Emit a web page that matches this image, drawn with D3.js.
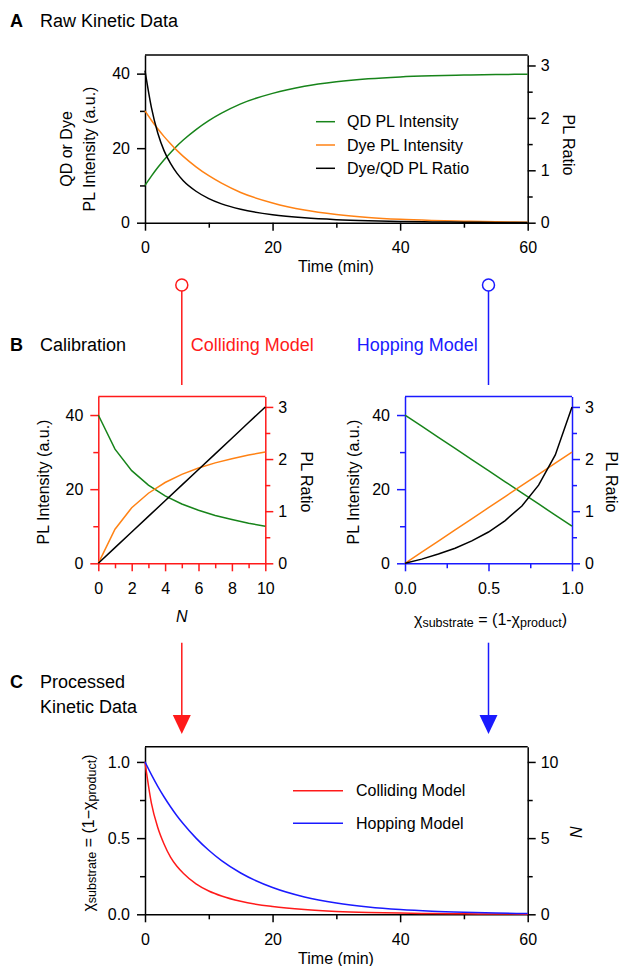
<!DOCTYPE html>
<html>
<head>
<meta charset="utf-8">
<script src="https://cdn.jsdelivr.net/npm/d3@7"></script>
<style>
body { margin: 0; background: #fff; }
text { font-family: "Liberation Sans", Arial, Helvetica, sans-serif; }
</style>
</head>
<body>
<svg id="fig" width="622" height="966"></svg>
<script>
// A - raw kinetic data
var rawTime = [0, 1, 2, 3, 4, 5, 6, 8, 10, 12, 15, 20, 25, 30, 35, 40, 45, 50, 55, 60]
var qdIntensity = [10, 12.5, 14.8, 16.9, 18.8, 20.6, 22.2, 25.0, 27.4, 29.4, 31.9, 34.7, 36.6, 37.8, 38.6, 39.1, 39.4, 39.6, 39.75, 39.85]
var dyeIntensity = [30, 27.5, 25.2, 23.1, 21.2, 19.4, 17.8, 15.0, 12.6, 10.6, 8.1, 5.3, 3.4, 2.2, 1.4, 0.9, 0.6, 0.4, 0.25, 0.15]
var plRatio = [2.9, 2.2, 1.71, 1.37, 1.13, 0.945, 0.80, 0.60, 0.46, 0.36, 0.256, 0.152, 0.093, 0.058, 0.037, 0.024, 0.015, 0.010, 0.006, 0.004]
var legendA = ['QD PL Intensity', 'Dye PL Intensity', 'Dye/QD PL Ratio']

// B - calibration, colliding model (vs N)
var calN = [0, 1, 2, 3, 4, 5, 6, 7, 8, 9, 10]
var calQdN = [40, 30.8, 25.0, 21.1, 18.2, 16.0, 14.3, 12.9, 11.8, 10.8, 10.0]
var calDyeN = [0, 9.2, 15.0, 18.9, 21.8, 24.0, 25.7, 27.1, 28.2, 29.2, 30.0]
var calRatioN = [0, 0.3, 0.6, 0.9, 1.2, 1.5, 1.8, 2.1, 2.4, 2.7, 3.0]

// B - calibration, hopping model (vs x substrate)
var calX = [0, 0.1, 0.2, 0.3, 0.4, 0.5, 0.6, 0.7, 0.8, 0.9, 1.0]
var calQdX = [40, 37, 34, 31, 28, 25, 22, 19, 16, 13, 10]
var calDyeX = [0, 3, 6, 9, 12, 15, 18, 21, 24, 27, 30]
var calRatioX = [0, 0.08, 0.18, 0.29, 0.43, 0.60, 0.82, 1.10, 1.50, 2.08, 3.0]

// C - processed kinetic data
var collidingX = [1.0, 0.73, 0.57, 0.46, 0.375, 0.315, 0.27, 0.20, 0.153, 0.12, 0.085, 0.051, 0.031, 0.019, 0.012, 0.008, 0.005, 0.003, 0.002, 0.001]
var hoppingX = [1.0, 0.917, 0.84, 0.77, 0.706, 0.647, 0.594, 0.50, 0.42, 0.352, 0.271, 0.176, 0.114, 0.074, 0.048, 0.031, 0.020, 0.013, 0.008, 0.005]
var legendC = ['Colliding Model', 'Hopping Model']

var GREEN = '#17841a', ORANGE = '#ff8214', RED = '#ff1a1a', BLUE = '#1a1aff'

var svg = d3.select('#fig')

var zip = function(xs, ys) { return xs.map(function(d, i) { return [d, ys[i]] }) }

//MARK: panel helper
var drawPanel = function(p)
{
	var g = svg.append('g')
	var xr = p.x.range(), yr = p.yl.range()

	g.append('line')
		.attr('x1', xr[0]).attr('x2', xr[1])
		.attr('y1', yr[1]).attr('y2', yr[1])
		.attr('stroke', p.color).attr('stroke-width', 1.5)

	var axes = [
		[d3.axisBottom(p.x), 'translate(0,' + yr[0] + ')', p.xTicks, p.xMinor, p.xFmt, 11],
		[d3.axisLeft(p.yl), 'translate(' + xr[0] + ',0)', p.ylTicks, p.ylMinor, p.ylFmt, 7],
		[d3.axisRight(p.yr), 'translate(' + xr[1] + ',0)', p.yrTicks, p.yrMinor, p.yrFmt, 5]
	]
	axes.forEach(function(a) {
		var ax = g.append('g').attr('transform', a[1])
			.call(a[0].tickValues(a[2]).tickSize(8).tickSizeOuter(0).tickPadding(a[5]).tickFormat(a[4]))
		ax.selectAll('.domain, .tick line').attr('stroke', p.color).attr('stroke-width', 1.5)
		ax.selectAll('text').attr('fill', '#000').style('font-size', '16px').style('font-family', null)
		if (a[3]) {
			var mx = g.append('g').attr('transform', a[1])
				.call(a[0].tickValues(a[3]).tickSize(5).tickFormat(''))
			mx.select('.domain').remove()
			mx.selectAll('.tick line').attr('stroke', p.color).attr('stroke-width', 1.5)
		}
	})

	p.series.forEach(function(s) {
		g.append('path')
			.datum(zip(s.x, s.y))
			.attr('fill', 'none')
			.attr('stroke', s.color)
			.attr('stroke-width', 1.5)
			.attr('d', d3.line()
				.x(function(d) { return p.x(d[0]) })
				.y(function(d) { return s.right ? p.yr(d[1]) : p.yl(d[1]) })
				.curve(p.curve || d3.curveLinear))
	})
	return g
}

var label = function(x, y, txt, opt)
{
	opt = opt || {}
	var t = svg.append('text')
		.attr('transform', 'translate(' + x + ',' + y + ')' + (opt.rot ? 'rotate(' + opt.rot + ')' : ''))
		.attr('text-anchor', opt.anchor || 'middle')
		.style('font-size', (opt.size || 16) + 'px')
		.attr('fill', opt.fill || '#000')
	if (opt.central) t.attr('dominant-baseline', 'central')
	if (opt.bold) t.style('font-weight', 'bold')
	if (opt.italic) t.style('font-style', 'italic')
	t.text(txt)
	return t
}

// chi_substrate = (1-chi_product)
var chiLabel = function(x, y, dash, rot)
{
	var t = svg.append('text')
		.attr('transform', 'translate(' + x + ',' + y + ')' + (rot ? 'rotate(' + rot + ')' : ''))
		.attr('text-anchor', 'middle')
		.attr('dominant-baseline', 'central')
		.style('font-size', '16px')
	t.append('tspan').text('\u03c7')
	t.append('tspan').attr('dy', 4).style('font-size', '12.5px').text('substrate')
	t.append('tspan').attr('dy', -4).text(' = (1' + dash + '\u03c7')
	t.append('tspan').attr('dy', 4).style('font-size', '12.5px').text('product')
	t.append('tspan').attr('dy', -4).text(')')
}

//MARK: A
var xA = d3.scaleLinear().domain([0, 60]).range([145, 527.7])
var yAl = d3.scaleLinear().domain([0, 45]).range([222.7, 55])
var yAr = d3.scaleLinear().domain([0, 3.2]).range([222.7, 55])

drawPanel({
	x: xA, yl: yAl, yr: yAr, color: '#000', curve: d3.curveMonotoneX,
	xTicks: [0, 20, 40, 60], xMinor: [10, 30, 50], xFmt: d3.format('d'),
	ylTicks: [0, 20, 40], ylMinor: [10, 30], ylFmt: d3.format('d'),
	yrTicks: [0, 1, 2, 3], yrMinor: [0.5, 1.5, 2.5], yrFmt: d3.format('d'),
	series: [
		{x: rawTime, y: qdIntensity, color: GREEN},
		{x: rawTime, y: dyeIntensity, color: ORANGE},
		{x: rawTime, y: plRatio, color: '#000', right: true}
	]
})

label(10, 27, 'A', {anchor: 'start', size: 18, bold: true})
label(40, 27, 'Raw Kinetic Data', {anchor: 'start', size: 18})
label(336, 272, 'Time (min)')
label(66.7, 149, 'QD or Dye', {rot: -90, central: true})
label(89.3, 149, 'PL Intensity (a.u.)', {rot: -90, central: true})
label(568.3, 145, 'PL Ratio', {rot: 90, central: true})

var legA = svg.append('g').selectAll('g').data(legendA).enter().append('g')
	.attr('transform', function(d, i) { return 'translate(316,' + (121.7 + i * 23.3) + ')' })
legA.append('line').attr('x1', 0).attr('x2', 19)
	.attr('stroke', function(d, i) { return [GREEN, ORANGE, '#000'][i] }).attr('stroke-width', 1.5)
legA.append('text').attr('x', 31).attr('dominant-baseline', 'central').style('font-size', '16px').text(function(d) { return d })

//MARK: B
var xB1 = d3.scaleLinear().domain([0, 10]).range([98.3, 265.3])
var yB1l = d3.scaleLinear().domain([0, 45]).range([563.3, 396.5])
var yB1r = d3.scaleLinear().domain([0, 3.2]).range([563.3, 396.5])

drawPanel({
	x: xB1, yl: yB1l, yr: yB1r, color: RED,
	xTicks: [0, 2, 4, 6, 8, 10], xMinor: [1, 3, 5, 7, 9], xFmt: d3.format('d'),
	ylTicks: [0, 20, 40], ylMinor: [10, 30], ylFmt: d3.format('d'),
	yrTicks: [0, 1, 2, 3], yrMinor: [0.5, 1.5, 2.5], yrFmt: d3.format('d'),
	series: [
		{x: calN, y: calQdN, color: GREEN},
		{x: calN, y: calDyeN, color: ORANGE},
		{x: calN, y: calRatioN, color: '#000', right: true}
	]
})

var xB2 = d3.scaleLinear().domain([0, 1]).range([405, 572])
var yB2l = d3.scaleLinear().domain([0, 45]).range([563.3, 396.5])
var yB2r = d3.scaleLinear().domain([0, 3.2]).range([563.3, 396.5])

drawPanel({
	x: xB2, yl: yB2l, yr: yB2r, color: BLUE,
	xTicks: [0, 0.5, 1], xMinor: [0.25, 0.75], xFmt: d3.format('.1f'),
	ylTicks: [0, 20, 40], ylMinor: [10, 30], ylFmt: d3.format('d'),
	yrTicks: [0, 1, 2, 3], yrMinor: [0.5, 1.5, 2.5], yrFmt: d3.format('d'),
	series: [
		{x: calX, y: calQdX, color: GREEN},
		{x: calX, y: calDyeX, color: ORANGE},
		{x: calX, y: calRatioX, color: '#000', right: true}
	]
})

label(10, 350.5, 'B', {anchor: 'start', size: 18, bold: true})
label(40, 350.5, 'Calibration', {anchor: 'start', size: 18})
label(190.7, 350.5, 'Colliding Model', {anchor: 'start', size: 18, fill: RED})
label(356.7, 350.5, 'Hopping Model', {anchor: 'start', size: 18, fill: BLUE})

label(43.3, 482, 'PL Intensity (a.u.)', {rot: -90, central: true})
label(306, 482, 'PL Ratio', {rot: 90, central: true})
label(353.3, 482, 'PL Intensity (a.u.)', {rot: -90, central: true})
label(611.7, 482, 'PL Ratio', {rot: 90, central: true})
label(xB1(5), 616, 'N', {central: true, italic: true})
chiLabel(490.5, 619, '-')

// connectors from A to the two calibrations
var conn = [[xB1(5), RED], [xB2(0.5), BLUE]]
conn.forEach(function(c) {
	svg.append('line').attr('x1', c[0]).attr('x2', c[0]).attr('y1', 291).attr('y2', 385)
		.attr('stroke', c[1]).attr('stroke-width', 1.5)
	svg.append('circle').attr('cx', c[0]).attr('cy', 285).attr('r', 6)
		.attr('fill', '#fff').attr('stroke', c[1]).attr('stroke-width', 1.5)
	svg.append('line').attr('x1', c[0]).attr('x2', c[0]).attr('y1', 642.7).attr('y2', 716)
		.attr('stroke', c[1]).attr('stroke-width', 1.5)
	svg.append('path')
		.attr('d', 'M' + (c[0] - 9) + ',715L' + (c[0] + 9) + ',715L' + c[0] + ',734Z')
		.attr('fill', c[1])
})

//MARK: C
var xC = d3.scaleLinear().domain([0, 60]).range([145, 527.7])
var yCl = d3.scaleLinear().domain([0, 1.1]).range([914.3, 746.7])
var yCr = d3.scaleLinear().domain([0, 11]).range([914.3, 746.7])

drawPanel({
	x: xC, yl: yCl, yr: yCr, color: '#000', curve: d3.curveMonotoneX,
	xTicks: [0, 20, 40, 60], xMinor: [10, 30, 50], xFmt: d3.format('d'),
	ylTicks: [0, 0.5, 1], ylMinor: [0.25, 0.75], ylFmt: d3.format('.1f'),
	yrTicks: [0, 5, 10], yrMinor: [2.5, 7.5], yrFmt: d3.format('d'),
	series: [
		{x: rawTime, y: collidingX, color: RED},
		{x: rawTime, y: hoppingX, color: BLUE}
	]
})

label(10, 688, 'C', {anchor: 'start', size: 18, bold: true})
label(40, 688, 'Processed', {anchor: 'start', size: 18})
label(40, 712.5, 'Kinetic Data', {anchor: 'start', size: 18})
label(336, 964, 'Time (min)')
chiLabel(88.3, 833, '\u2212', -90)
label(575, 831.7, 'N', {rot: 90, central: true, italic: true})

var legC = svg.append('g').selectAll('g').data(legendC).enter().append('g')
	.attr('transform', function(d, i) { return 'translate(293,' + (790.7 + i * 32.6) + ')' })
legC.append('line').attr('x1', 0).attr('x2', 50)
	.attr('stroke', function(d, i) { return [RED, BLUE][i] }).attr('stroke-width', 1.5)
legC.append('text').attr('x', 63).attr('dominant-baseline', 'central').style('font-size', '16px').text(function(d) { return d })
</script>
</body>
</html>
